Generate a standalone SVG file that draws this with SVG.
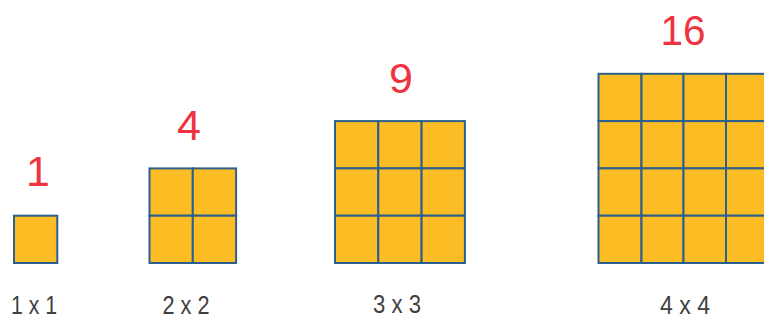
<svg xmlns="http://www.w3.org/2000/svg" width="764" height="323" viewBox="0 0 764 323">
<defs>
<style>
.cell{fill:#FCBD24;stroke:#2B5F8E;stroke-width:2}
.num{font-family:"Liberation Sans",Arial,sans-serif;font-size:43px;fill:#EE3440;text-anchor:middle}
.lbl{font-family:"Liberation Sans",Arial,sans-serif;font-size:25px;fill:#404040;text-anchor:middle}
</style>
</defs>
<rect width="764" height="323" fill="#ffffff"/>
<g id="sq1">
<rect class="cell" x="14" y="215.7" width="43.3" height="47.3"/>
<text class="num" x="38" y="186">1</text>
<text class="lbl" x="34" y="314" textLength="46" lengthAdjust="spacingAndGlyphs">1 x 1</text>
</g>
<g id="sq2">
<rect class="cell" x="149.5" y="168.4" width="43.3" height="47.3"/>
<rect class="cell" x="192.8" y="168.4" width="43.3" height="47.3"/>
<rect class="cell" x="149.5" y="215.7" width="43.3" height="47.3"/>
<rect class="cell" x="192.8" y="215.7" width="43.3" height="47.3"/>
<text class="num" x="189" y="140">4</text>
<text class="lbl" x="186" y="314" textLength="47" lengthAdjust="spacingAndGlyphs">2 x 2</text>
</g>
<g id="sq3">
<rect class="cell" x="335" y="121.1" width="43.3" height="47.3"/>
<rect class="cell" x="378.3" y="121.1" width="43.3" height="47.3"/>
<rect class="cell" x="421.6" y="121.1" width="43.3" height="47.3"/>
<rect class="cell" x="335" y="168.4" width="43.3" height="47.3"/>
<rect class="cell" x="378.3" y="168.4" width="43.3" height="47.3"/>
<rect class="cell" x="421.6" y="168.4" width="43.3" height="47.3"/>
<rect class="cell" x="335" y="215.7" width="43.3" height="47.3"/>
<rect class="cell" x="378.3" y="215.7" width="43.3" height="47.3"/>
<rect class="cell" x="421.6" y="215.7" width="43.3" height="47.3"/>
<text class="num" x="401" y="93">9</text>
<text class="lbl" x="397" y="313" textLength="48" lengthAdjust="spacingAndGlyphs">3 x 3</text>
</g>
<g id="sq4">
<rect class="cell" x="598.5" y="73.8" width="43" height="47.3"/>
<rect class="cell" x="641.5" y="73.8" width="42" height="47.3"/>
<rect class="cell" x="683.5" y="73.8" width="42.5" height="47.3"/>
<rect class="cell" x="726" y="73.8" width="43.3" height="47.3"/>
<rect class="cell" x="598.5" y="121.1" width="43" height="47.3"/>
<rect class="cell" x="641.5" y="121.1" width="42" height="47.3"/>
<rect class="cell" x="683.5" y="121.1" width="42.5" height="47.3"/>
<rect class="cell" x="726" y="121.1" width="43.3" height="47.3"/>
<rect class="cell" x="598.5" y="168.4" width="43" height="47.3"/>
<rect class="cell" x="641.5" y="168.4" width="42" height="47.3"/>
<rect class="cell" x="683.5" y="168.4" width="42.5" height="47.3"/>
<rect class="cell" x="726" y="168.4" width="43.3" height="47.3"/>
<rect class="cell" x="598.5" y="215.7" width="43" height="47.3"/>
<rect class="cell" x="641.5" y="215.7" width="42" height="47.3"/>
<rect class="cell" x="683.5" y="215.7" width="42.5" height="47.3"/>
<rect class="cell" x="726" y="215.7" width="43.3" height="47.3"/>
<text class="num" x="683" y="45" textLength="45" lengthAdjust="spacingAndGlyphs">16</text>
<text class="lbl" x="685" y="314" textLength="50" lengthAdjust="spacingAndGlyphs">4 x 4</text>
</g>
</svg>
